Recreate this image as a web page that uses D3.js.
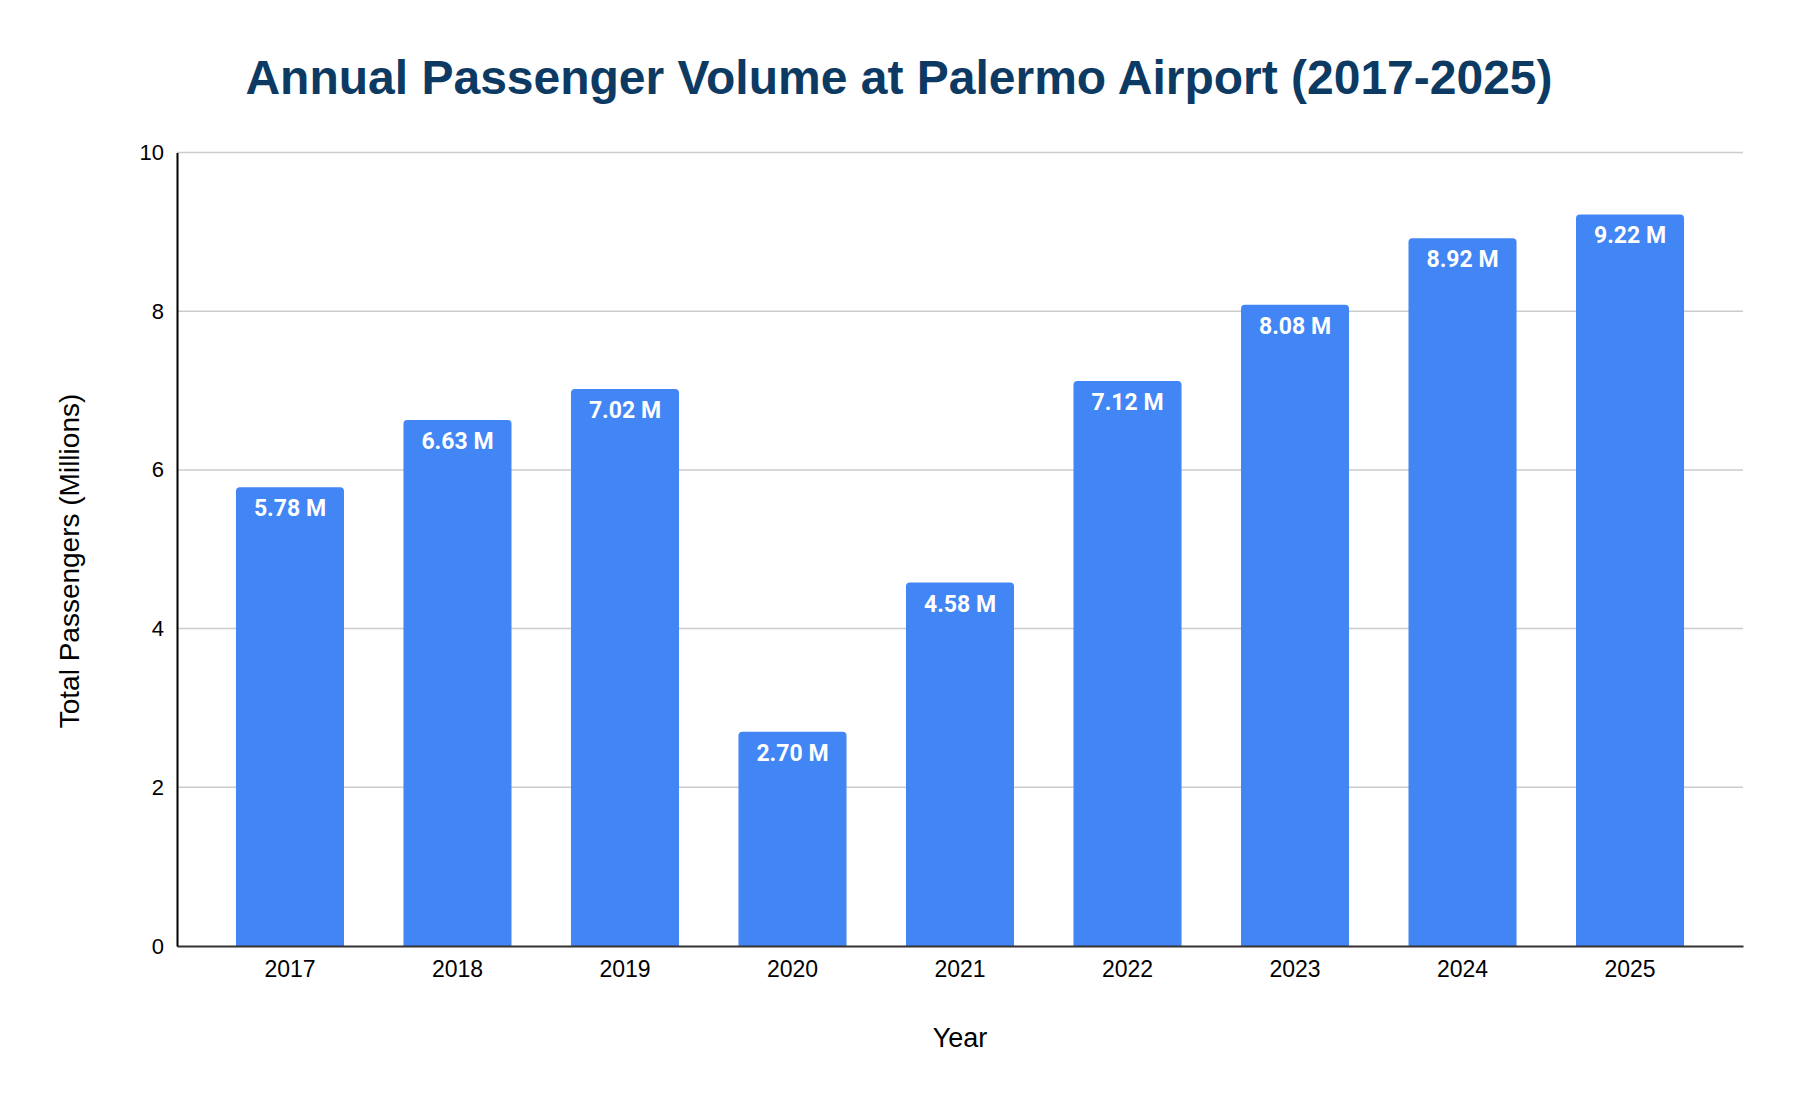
<!DOCTYPE html>
<html>
<head>
<meta charset="utf-8">
<script src="https://cdn.jsdelivr.net/npm/d3@7"></script>
<style>
  html, body { margin: 0; padding: 0; background: #fff; }
  svg { display: block; }
</style>
</head>
<body>
<div id="chart"></div>
<script>
"use strict";

const years = ["2017", "2018", "2019", "2020", "2021", "2022", "2023", "2024", "2025"];
const passengers = [5.78, 6.63, 7.02, 2.70, 4.58, 7.12, 8.08, 8.92, 9.22];
const yTicks = [0, 2, 4, 6, 8, 10];

const chartTitle = "Annual Passenger Volume at Palermo Airport (2017-2025)";
const xTitle = "Year";
const yTitle = "Total Passengers (Millions)";

const width = 1798;
const height = 1108;
const margin = {top: 152.5, right: 55, bottom: 162, left: 177};
const innerW = width - margin.left - margin.right;
const innerH = height - margin.top - margin.bottom;

const svg = d3.select("#chart").append("svg")
    .attr("width", width)
    .attr("height", height);

const g = svg.append("g")
    .attr("transform", `translate(${margin.left},${margin.top})`);

const xScale = d3.scaleBand()
    .domain(years)
    .range([0, innerW])
    .paddingInner(0.355)
    .paddingOuter(0.352)
    .align(0.5);

const yScale = d3.scaleLinear()
    .domain([0, 10])
    .range([innerH, 0]);

// Grid
g.append("g")
  .selectAll("line")
  .data(yTicks.filter(d => d > 0))
  .enter()
  .append("line")
  .attr("x1", 0)
  .attr("x2", innerW)
  .attr("y1", d => yScale(d))
  .attr("y2", d => yScale(d))
  .attr("stroke", "#cccccc")
  .attr("stroke-width", 1.5);

// Bars, only the top corners are rounded
const r = 4;
const barPath = d => {
  const x0 = xScale(d.year);
  const x1 = x0 + xScale.bandwidth();
  const y0 = yScale(d.value);
  const yb = yScale(0);
  return `M${x0},${yb}V${y0 + r}Q${x0},${y0} ${x0 + r},${y0}` +
         `H${x1 - r}Q${x1},${y0} ${x1},${y0 + r}V${yb}Z`;
};

const data = years.map((y, i) => ({year: y, value: passengers[i]}));

g.append("g")
  .selectAll("path.bar")
  .data(data)
  .enter()
  .append("path")
  .attr("class", "bar")
  .attr("fill", "#4285f4")
  .attr("d", barPath);

g.append("g")
  .selectAll("text.bar-label")
  .data(data)
  .enter()
  .append("text")
  .attr("class", "bar-label")
  .attr("x", d => xScale(d.year) + xScale.bandwidth() / 2)
  .attr("y", d => yScale(d.value) + 29)
  .attr("text-anchor", "middle")
  .attr("fill", "#ffffff")
  .style("font-family", "Roboto, 'Liberation Sans', sans-serif")
  .style("font-weight", "bold")
  .style("font-size", "23px")
  .text(d => d.value.toFixed(2) + " M");

// Axes
const xAxis = g.append("g")
    .attr("transform", `translate(0,${innerH})`)
    .call(d3.axisBottom(xScale).tickSize(0).tickPadding(15));
xAxis.select(".domain")
    .attr("stroke", "#333333")
    .attr("stroke-width", 2);
xAxis.selectAll("text")
    .attr("fill", "#000")
    .style("font-family", "'Liberation Sans', Arial, sans-serif")
    .style("font-size", "23px");

const yAxis = g.append("g")
    .call(d3.axisLeft(yScale).tickValues(yTicks).tickSize(0).tickPadding(13));
yAxis.select(".domain")
    .attr("stroke", "#000000")
    .attr("stroke-width", 2);
yAxis.selectAll("text")
    .attr("fill", "#000")
    .style("font-family", "'Liberation Sans', Arial, sans-serif")
    .style("font-size", "22px");

// Titles
svg.append("text")
    .attr("x", width / 2)
    .attr("y", 94)
    .attr("text-anchor", "middle")
    .attr("fill", "#0d3a63")
    .style("font-family", "'Liberation Sans', Arial, sans-serif")
    .style("font-weight", "bold")
    .style("font-size", "48px")
    .text(chartTitle);

svg.append("text")
    .attr("x", 960)
    .attr("y", 1047)
    .attr("text-anchor", "middle")
    .attr("fill", "#000")
    .style("font-family", "'Liberation Sans', Arial, sans-serif")
    .style("font-size", "27px")
    .text(xTitle);

svg.append("text")
    .attr("transform", "translate(79,561) rotate(-90)")
    .attr("text-anchor", "middle")
    .attr("fill", "#000")
    .style("font-family", "'Liberation Sans', Arial, sans-serif")
    .style("font-size", "28px")
    .text(yTitle);
</script>
</body>
</html>
